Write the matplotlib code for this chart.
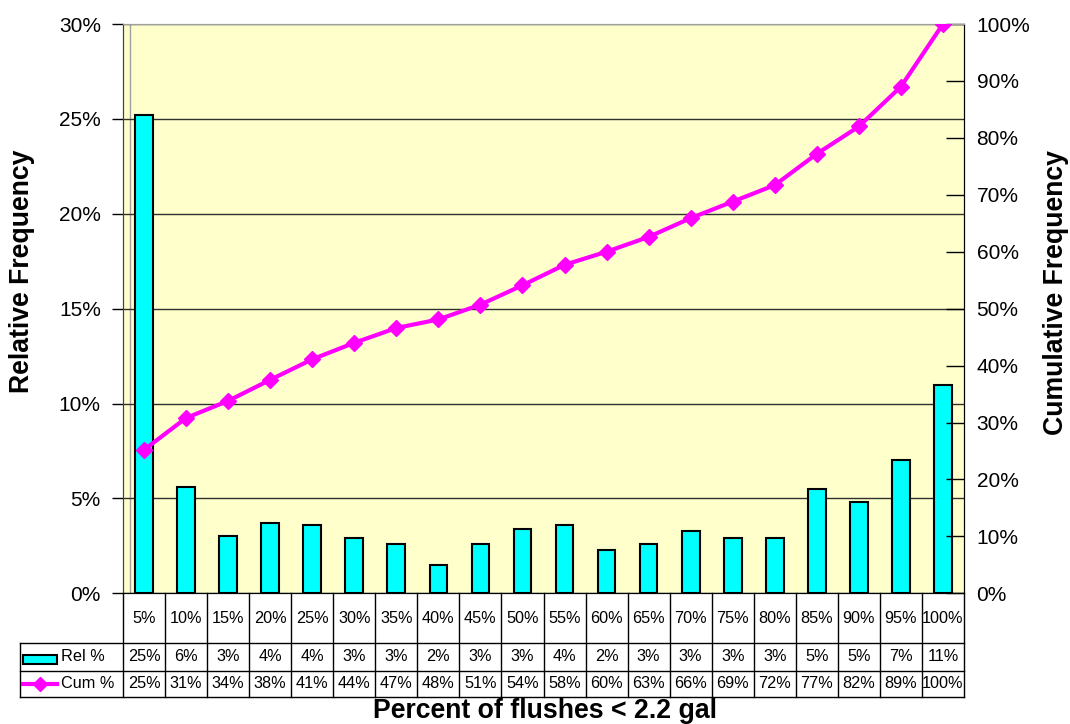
import numpy as np
import matplotlib
matplotlib.use('Agg')
import matplotlib.pyplot as plt
from matplotlib.patches import Rectangle
from matplotlib.lines import Line2D
from matplotlib.transforms import blended_transform_factory
from matplotlib.ticker import FuncFormatter, MultipleLocator

plt.rcParams['font.family'] = ['Liberation Sans', 'DejaVu Sans']

# data
categories = ['5%', '10%', '15%', '20%', '25%', '30%', '35%', '40%', '45%', '50%',
              '55%', '60%', '65%', '70%', '75%', '80%', '85%', '90%', '95%', '100%']
rel = [25.2, 5.6, 3.0, 3.7, 3.6, 2.9, 2.6, 1.5, 2.6, 3.4,
       3.6, 2.3, 2.6, 3.3, 2.9, 2.9, 5.5, 4.8, 7.0, 11.0]
cum = [25.2, 30.8, 33.8, 37.5, 41.1, 44.0, 46.6, 48.1, 50.7, 54.1,
       57.7, 60.0, 62.6, 65.9, 68.8, 71.7, 77.2, 82.0, 89.0, 100.0]
rel_labels = ['25%', '6%', '3%', '4%', '4%', '3%', '3%', '2%', '3%', '3%',
              '4%', '2%', '3%', '3%', '3%', '3%', '5%', '5%', '7%', '11%']
cum_labels = ['25%', '31%', '34%', '38%', '41%', '44%', '47%', '48%', '51%', '54%',
              '58%', '60%', '63%', '66%', '69%', '72%', '77%', '82%', '89%', '100%']

W, H = 1070, 724
fig = plt.figure(figsize=(W / 100, H / 100), dpi=100)

x0, x1, ytop, ybot = 123, 964, 24, 593.3
ax = fig.add_axes((x0 / W, 1 - ybot / H, (x1 - x0) / W, (ybot - ytop) / H))
ax2 = ax.twinx()
ax.set_zorder(1)
ax2.set_zorder(2)
ax.set_facecolor('#FFFFCC')
ax2.patch.set_visible(False)

n = len(categories)
xs = np.arange(n)
ax.set_xlim(-0.5, n - 0.5)
ax.set_ylim(0, 30)
ax2.set_ylim(0, 100)

ax.yaxis.set_major_locator(MultipleLocator(5))
ax2.yaxis.set_major_locator(MultipleLocator(10))
pct = FuncFormatter(lambda v, p: '%d%%' % round(v))
ax.yaxis.set_major_formatter(pct)
ax2.yaxis.set_major_formatter(pct)
ax.tick_params(axis='y', labelsize=15, direction='out', length=8, width=1, pad=8)
ax2.tick_params(axis='y', labelsize=15, direction='in', length=13, width=1, pad=9)
ax.set_xticks([])
ax2.set_xticks([])

ax.grid(axis='y', color='#303030', lw=1)
ax.set_axisbelow(True)
for a in (ax, ax2):
    a.spines['top'].set_color('#a0a0a0')
    a.spines['left'].set_color('#404040')
    a.spines['right'].set_color('black')
    a.spines['bottom'].set_color('black')
ax.axvline(-0.5 + 7 / 42.05, color='#a0a0a0', lw=1, zorder=0.5)

ax.bar(xs, rel, width=0.42, color='#00FFFF', edgecolor='black', lw=1.5, zorder=3)
ax2.plot(xs, cum, '-', color='#FF00FF', lw=3, marker='D', markersize=8, zorder=4)

# data table below the axis
tr = blended_transform_factory(ax.transData, fig.transFigure)
def fy(px):
    return 1 - px / H

left_edge = -0.5 - (x0 - 20) / 42.05
y_axis, y_r1, y_r2, y_r3 = 593.3, 643, 670.5, 696.5
for i in range(n + 1):
    xb = -0.5 + i
    fig.add_artist(Line2D([xb, xb], [fy(y_axis), fy(y_r3)], transform=tr,
                          color='black', lw=1))
for yy in (y_r1, y_r2, y_r3):
    fig.add_artist(Line2D([left_edge, n - 0.5], [fy(yy), fy(yy)], transform=tr,
                          color='black', lw=1))
fig.add_artist(Line2D([left_edge, left_edge], [fy(y_r1), fy(y_r3)], transform=tr,
                      color='black', lw=1))

tfs = 11.7
for i in range(n):
    fig.text(xs[i], fy((y_axis + y_r1) / 2), categories[i], transform=tr,
             ha='center', va='center', fontsize=tfs)
    fig.text(xs[i], fy((y_r1 + y_r2) / 2), rel_labels[i], transform=tr,
             ha='center', va='center', fontsize=tfs)
    fig.text(xs[i], fy((y_r2 + y_r3) / 2), cum_labels[i], transform=tr,
             ha='center', va='center', fontsize=tfs)

# legend keys inside the table
kx0 = -0.5 - (x0 - 23.5) / 42.05
kx1 = -0.5 - (x0 - 57) / 42.05
fig.add_artist(Rectangle((kx0, fy(663.5)), kx1 - kx0, (663.5 - 655) / H,
                         transform=tr, facecolor='#00FFFF', edgecolor='black', lw=1.5))
fig.add_artist(Line2D([kx0, kx1], [fy(683.5), fy(683.5)], transform=tr,
                      color='#FF00FF', lw=3))
fig.add_artist(Line2D([(kx0 + kx1) / 2], [fy(683.5)], transform=tr,
                      color='#FF00FF', marker='D', markersize=7, lw=0))
tx = -0.5 - (x0 - 61) / 42.05
fig.text(tx, fy((y_r1 + y_r2) / 2), 'Rel %', transform=tr, ha='left', va='center', fontsize=tfs)
fig.text(tx, fy((y_r2 + y_r3) / 2), 'Cum %', transform=tr, ha='left', va='center', fontsize=tfs)

fig.text(545 / W, fy(711), 'Percent of flushes < 2.2 gal', ha='center', va='center',
         fontsize=19.2, fontweight='bold')
fig.text(22 / W, fy(271.5), 'Relative Frequency', ha='center', va='center',
         rotation=90, fontsize=19.2, fontweight='bold')
fig.text(1056 / W, fy(292.5), 'Cumulative Frequency', ha='center', va='center',
         rotation=90, fontsize=19.2, fontweight='bold')

fig.savefig('out.png', dpi=100, facecolor='white')
